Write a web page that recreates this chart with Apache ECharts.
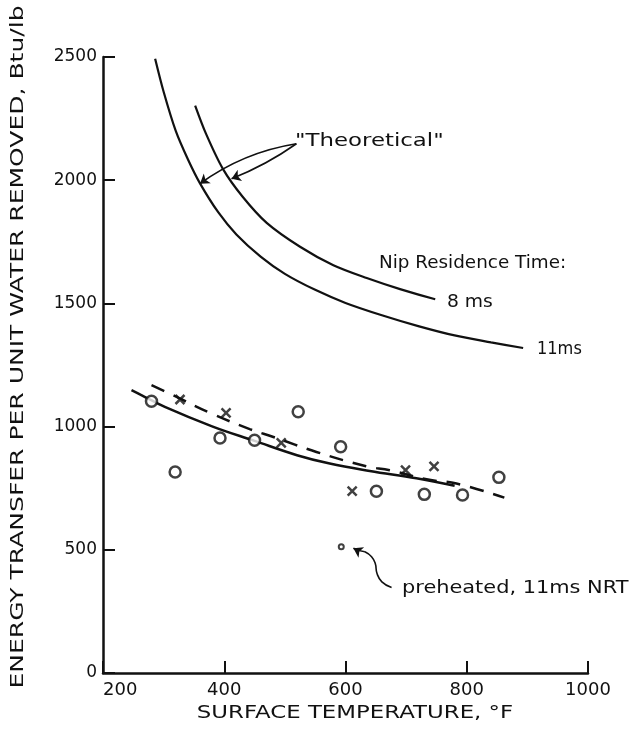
<!DOCTYPE html>
<html>
<head>
<meta charset="utf-8">
<script src="https://cdn.jsdelivr.net/npm/echarts@6/dist/echarts.min.js"></script>
<style>
html,body{margin:0;padding:0;background:#fff;}
#chart{width:635px;height:729px;}
</style>
</head>
<body>
<div id="chart"></div>
<script>
// ---- data ----
const xTicks = [200, 400, 600, 800, 1000];
const yTicks = [0, 500, 1000, 1500, 2000, 2500];

const theory11X = [286, 300, 320, 340, 360, 390, 420, 460, 500, 550, 600, 660, 720, 780, 840, 893];
const theory11Y = [2493, 2359, 2200, 2085, 1987, 1870, 1780, 1690, 1620, 1555, 1502, 1452, 1408, 1370, 1342, 1319];
const theory8X = [352, 370, 398, 430, 470, 525, 580, 635, 690, 748];
const theory8Y = [2303, 2188, 2045, 1934, 1827, 1730, 1655, 1603, 1558, 1517];

const circleX = [280, 319, 393, 450, 522, 592, 651, 730, 793, 853];
const circleY = [1103, 816, 954, 945, 1060, 918, 738, 725, 722, 794];
const crossX = [327, 403, 494, 611, 699, 746];
const crossY = [1110, 1056, 934, 738, 823, 839];
const preheatX = [593];
const preheatY = [512];

const solidFitX = [247, 264, 302, 381, 450, 520, 574, 640, 717, 780];
const solidFitY = [1148, 1127, 1080, 1000, 942, 884, 850, 820, 790, 760];
const dashFitX = [280, 310, 379, 442, 481, 552, 634, 673, 736, 783, 862];
const dashFitY = [1168, 1134, 1053, 990, 958, 897, 839, 823, 785, 769, 712];

// annotation arrows (data coordinates)
const arrowTheo = [
  {from: [519, 2148], to: [360, 1986], curve: -0.12},
  {from: [519, 2148], to: [412, 2006], curve: 0.06}
];
const preArrowPathX = [676, 660, 652, 649, 643, 632];
const preArrowPathY = [347, 370, 404, 445, 472, 492];
const preArrowTip = [613, 506];

const zip = (a, b) => a.map((v, i) => [v, b[i]]);
const FONT = '"DejaVu Sans", sans-serif';
const INK = '#111';
const F18 = '18px ' + FONT;

const chart = echarts.init(document.getElementById('chart'), null, {renderer: 'canvas'});

const prePath = zip(preArrowPathX, preArrowPathY);

chart.setOption({
  backgroundColor: '#fff',
  animation: false,
  grid: {left: 103, right: 47, top: 57, bottom: 56, containLabel: false},
  xAxis: {
    type: 'value', min: 200, max: 1000, interval: 200,
    axisLine: {show: true, lineStyle: {color: INK, width: 2.5}},
    axisTick: {show: true, inside: true, length: 12, lineStyle: {color: INK, width: 2}},
    axisLabel: {color: INK, fontFamily: FONT, fontSize: 18, margin: 8, alignMinLabel: 'left',
      formatter: v => xTicks.includes(v) ? String(v) : ''},
    splitLine: {show: false}
  },
  yAxis: {
    type: 'value', min: 0, max: 2500, interval: 500,
    axisLine: {show: true, lineStyle: {color: INK, width: 2.5}},
    axisTick: {show: true, inside: true, length: 12, lineStyle: {color: INK, width: 2}},
    axisLabel: {color: INK, fontFamily: FONT, fontSize: 17, margin: 6,
      formatter: v => yTicks.includes(v) ? String(v) : ''},
    splitLine: {show: false}
  },
  graphic: [
    {type: 'text', x: 18, y: 347, rotation: Math.PI / 2, scaleX: 1.39,
      style: {text: 'ENERGY TRANSFER PER UNIT WATER REMOVED, Btu/lb', font: F18,
        fill: INK, align: 'center', verticalAlign: 'middle'}},
    {type: 'text', x: 355, y: 713, scaleX: 1.27,
      style: {text: 'SURFACE TEMPERATURE, °F', font: F18,
        fill: INK, align: 'center', verticalAlign: 'middle'}},
    {type: 'text', x: 295, y: 141, scaleX: 1.27,
      style: {text: '"Theoretical"', font: F18, fill: INK, align: 'left', verticalAlign: 'middle'}},
    {type: 'text', x: 379, y: 263, scaleX: 1.02,
      style: {text: 'Nip Residence Time:', font: F18, fill: INK, align: 'left', verticalAlign: 'middle'}},
    {type: 'text', x: 447, y: 302, scaleX: 1.04,
      style: {text: '8 ms', font: F18, fill: INK, align: 'left', verticalAlign: 'middle'}},
    {type: 'text', x: 537, y: 349, scaleX: 0.9,
      style: {text: '11ms', font: F18, fill: INK, align: 'left', verticalAlign: 'middle'}},
    {type: 'text', x: 402, y: 588, scaleX: 1.16,
      style: {text: 'preheated, 11ms NRT', font: F18, fill: INK, align: 'left', verticalAlign: 'middle'}}
  ],
  series: [
    {name: 'Theoretical 11ms', type: 'line', data: zip(theory11X, theory11Y), smooth: 0.3,
      showSymbol: false, lineStyle: {color: INK, width: 2.2}},
    {name: 'Theoretical 8ms', type: 'line', data: zip(theory8X, theory8Y), smooth: 0.3,
      showSymbol: false, lineStyle: {color: INK, width: 2.2}},
    {name: 'Fit circles', type: 'line', data: zip(solidFitX, solidFitY), smooth: 0.4,
      showSymbol: false, lineStyle: {color: INK, width: 2.5}},
    {name: 'Fit crosses', type: 'line', data: zip(dashFitX, dashFitY), smooth: 0.4,
      showSymbol: false, lineStyle: {color: INK, width: 2.5, type: [14, 10]}},
    {name: 'Circles', type: 'scatter', data: zip(circleX, circleY), symbol: 'circle', symbolSize: 11,
      itemStyle: {color: '#fff', borderColor: INK, borderWidth: 2.5}, z: 5},
    {name: 'Crosses', type: 'scatter', data: zip(crossX, crossY),
      symbol: 'path://M0,0L10,10M10,0L0,10', symbolSize: 9,
      itemStyle: {color: 'none', borderColor: INK, borderWidth: 2.5}, z: 5},
    {name: 'Preheated', type: 'scatter', data: zip(preheatX, preheatY), symbol: 'circle', symbolSize: 5,
      itemStyle: {color: '#fff', borderColor: INK, borderWidth: 2}, z: 5},
    {name: 'Preheated arrow path', type: 'line', data: prePath, smooth: 0.5,
      showSymbol: false, lineStyle: {color: INK, width: 1.6}, z: 4},
    {name: 'Arrows', type: 'lines', coordinateSystem: 'cartesian2d', polyline: false,
      symbol: ['none', 'arrow'], symbolSize: 9,
      data: arrowTheo.map(a => ({coords: [a.from, a.to], lineStyle: {curveness: a.curve}}))
        .concat([{coords: [prePath[prePath.length - 1], preArrowTip], lineStyle: {curveness: 0.1}}]),
      lineStyle: {color: INK, width: 1.6, opacity: 1}, z: 4}
  ]
});
</script>
</body>
</html>
